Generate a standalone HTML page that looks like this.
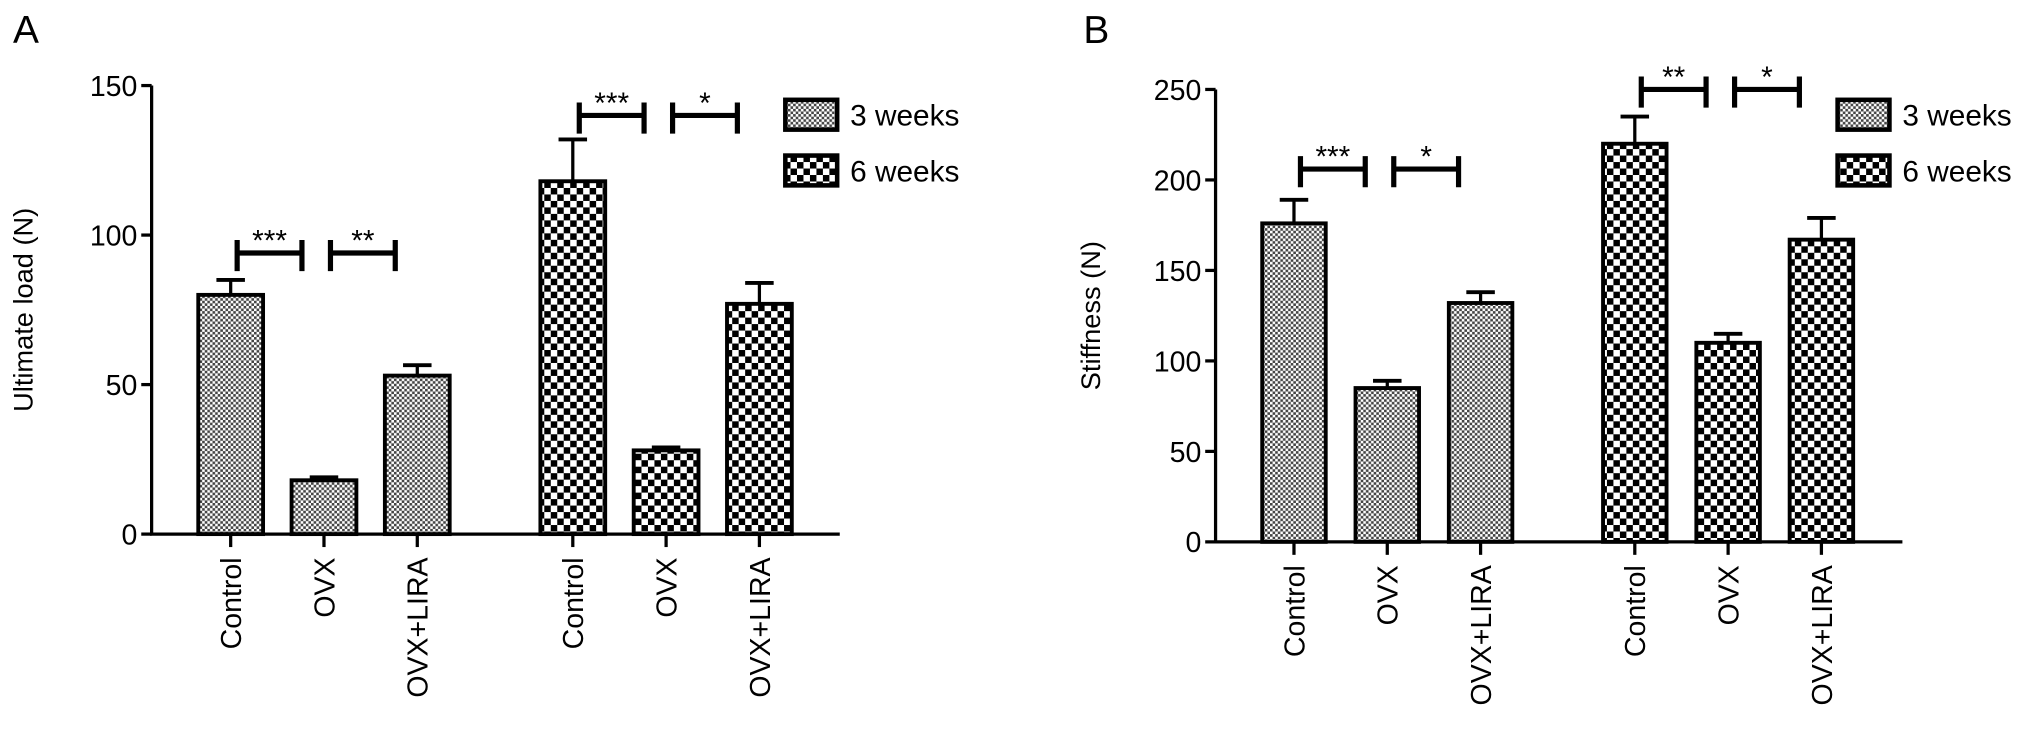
<!DOCTYPE html>
<html><head><meta charset="utf-8"><style>
html,body{margin:0;padding:0;background:#fff;}
svg{display:block;font-family:"Liberation Sans",Arial,sans-serif;}
</style></head><body>
<svg id="fig" width="2032" height="748" viewBox="0 0 1568 577" preserveAspectRatio="none">
<defs>
<pattern id="p3" width="4" height="4" patternUnits="userSpaceOnUse"><rect width="4" height="4" fill="#fff"/><rect width="2" height="2" fill="#444"/><rect x="2" y="2" width="2" height="2" fill="#444"/></pattern>
<pattern id="p6" width="10" height="10" patternUnits="userSpaceOnUse"><rect width="10" height="10" fill="#fff"/><rect width="5" height="5" fill="#000"/><rect x="5" y="5" width="5" height="5" fill="#000"/></pattern>
</defs>
</svg>
<script>
const categories = ["Control","OVX","OVX+LIRA"];
const groups = ["3 weeks","6 weeks"];
const loadMeans3 = [80, 18, 53];
const loadErr3 = [5, 1, 3.5];
const loadMeans6 = [118, 28, 77];
const loadErr6 = [14, 1, 7];
const stiffMeans3 = [176, 85, 132];
const stiffErr3 = [13, 4, 6];
const stiffMeans6 = [220, 110, 167];
const stiffErr6 = [15, 5, 12];
const loadTicks = [0, 50, 100, 150];
const stiffTicks = [0, 50, 100, 150, 200, 250];
const loadSig = [["***",0,1,0,94],["**",1,2,0,94],["***",0,1,1,140],["*",1,2,1,140]];
const stiffSig = [["***",0,1,0,206],["*",1,2,0,206],["**",0,1,1,250],["*",1,2,1,250]];

const NS="http://www.w3.org/2000/svg";
const svg=document.getElementById('fig');
function mk(t,a,p){const e=document.createElementNS(NS,t);for(const k in a)e.setAttribute(k,a[k]);(p||svg).appendChild(e);return e;}

function panel(o){
  const g=mk('g',{});
  
  
  const y=v=>o.y0-(v/o.max)*(o.y0-o.yTop);
  const barX=(gi,ci)=>o.x0+o.off+gi*o.groupGap+ci*o.step;
  const L=mk('text',{x:o.letterX,y:33,'font-size':30},g);L.textContent=o.letter;
  
  
  const yt=mk('text',{x:0,y:0,'font-size':21,'text-anchor':'middle',transform:`translate(${o.x0-o.titleOff},${(o.y0+o.yTop)/2}) rotate(-90)`},g);
  yt.textContent=o.title;
  
  
  const ax=mk('path',{d:`M${o.x0},${o.yTop} V${o.y0} H${o.xEnd}`,stroke:'#000','stroke-width':2.5,fill:'none'},g);
  
  
  o.ticks.forEach(t=>{
    mk('line',{x1:o.x0-8,x2:o.x0,y1:y(t),y2:y(t),stroke:'#000','stroke-width':2.5},g);
    const tl=mk('text',{x:o.x0-11,y:y(t)+8,'font-size':22,'text-anchor':'end'},g);tl.textContent=t;
    
    
  });
  [o.m3,o.m6].forEach((means,gi)=>{
    const errs=gi?o.e6:o.e3;
    means.forEach((v,ci)=>{
      const bx=barX(gi,ci),cx=bx+o.bw/2;
      const top=y(v+errs[ci]);
      mk('line',{x1:cx,x2:cx,y1:y(v),y2:top,stroke:'#000','stroke-width':2.5},g);
      mk('line',{x1:cx-11,x2:cx+11,y1:top,y2:top,stroke:'#000','stroke-width':3},g);
      const r=mk('rect',{x:bx,y:y(v),width:o.bw,height:o.y0-y(v),fill:gi?'url(#p6)':'url(#p3)',stroke:'#000','stroke-width':3},g);
      
      
      mk('line',{x1:cx,x2:cx,y1:o.y0,y2:o.y0+10,stroke:'#000','stroke-width':2.5},g);
      const xl=mk('text',{x:0,y:0,'font-size':22,'text-anchor':'end',transform:`translate(${cx+8},${o.y0+18}) rotate(-90)`},g);
      xl.textContent=categories[ci];
      
      
    });
  });
  o.sig.forEach(s=>{
    const x1=barX(s[3],s[1])+o.bw/2+5, x2=barX(s[3],s[2])+o.bw/2-17;
    const yy=y(s[4]);
    const b=mk('path',{d:`M${x1},${yy-10}V${yy+14}M${x1},${yy}H${x2}M${x2},${yy-10}V${yy+14}`,stroke:'#000','stroke-width':4,fill:'none'},g);
    
    
    const st=mk('text',{x:(x1+x2)/2,y:yy-2,'font-size':23,'text-anchor':'middle'},g);st.textContent=s[0];
    
    
  });
  groups.forEach((gn,i)=>{
    const ly=o.legY+i*43;
    const lb=mk('rect',{x:o.legX,y:ly,width:40,height:23,fill:i?'url(#p6)':'url(#p3)',stroke:'#000','stroke-width':3.5},g);
    
    
    const lt=mk('text',{x:o.legX+50,y:ly+20,'font-size':23},g);lt.textContent=gn;
    
    
  });
}
panel({name:'panel-a-ultimate-load',letter:'A',letterX:10,title:'Ultimate load (N)',titleOff:92,x0:117,xEnd:648,y0:412,yTop:66,max:150,ticks:loadTicks,
  off:36,step:72,groupGap:264,bw:50,m3:loadMeans3,e3:loadErr3,m6:loadMeans6,e6:loadErr6,sig:loadSig,legX:606,legY:77});
panel({name:'panel-b-stiffness',letter:'B',letterX:836,title:'Stiffness (N)',titleOff:89,x0:938,xEnd:1468,y0:418,yTop:69,max:250,ticks:stiffTicks,
  off:36,step:72,groupGap:263,bw:49,m3:stiffMeans3,e3:stiffErr3,m6:stiffMeans6,e6:stiffErr6,sig:stiffSig,legX:1418,legY:77});
</script>
</body></html>
